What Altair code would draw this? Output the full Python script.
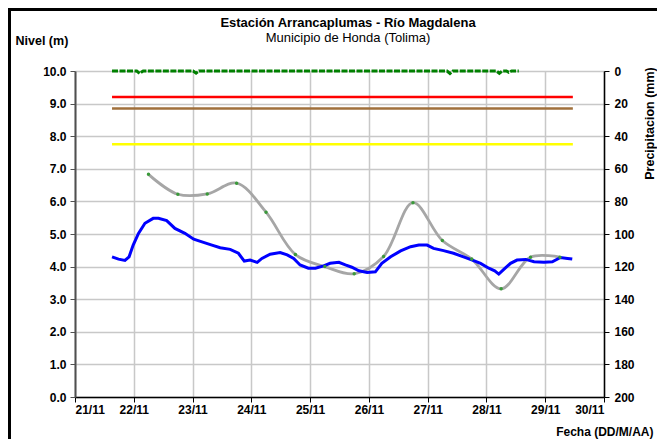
import altair as alt
import pandas as pd

# ---- data ----
days = list(range(21, 31))

level_t = [21.63, 21.74, 21.85, 21.92, 21.99, 22.08, 22.19, 22.33, 22.42, 22.56,
           22.70, 22.87, 23.02, 23.16, 23.33, 23.47, 23.64, 23.78, 23.88, 23.98,
           24.10, 24.18, 24.32, 24.49, 24.61, 24.72, 24.83, 24.97, 25.09, 25.23,
           25.34, 25.49, 25.60, 25.71, 25.83, 25.97, 26.11, 26.22, 26.37, 26.54,
           26.71, 26.85, 26.99, 27.10, 27.27, 27.44, 27.61, 27.76, 27.90, 28.04,
           28.14, 28.21, 28.30, 28.41, 28.52, 28.67, 28.81, 28.98, 29.12, 29.26,
           29.38, 29.46]
level_v = [4.30, 4.23, 4.19, 4.30, 4.66, 5.02, 5.33, 5.48, 5.48, 5.41,
           5.17, 5.02, 4.84, 4.76, 4.66, 4.58, 4.53, 4.41, 4.17, 4.20,
           4.13, 4.25, 4.38, 4.43, 4.36, 4.25, 4.05, 3.95, 3.95, 4.02,
           4.10, 4.13, 4.05, 3.98, 3.87, 3.82, 3.84, 4.10, 4.30, 4.48,
           4.61, 4.66, 4.66, 4.56, 4.49, 4.41, 4.30, 4.20, 4.10, 3.95,
           3.87, 3.77, 3.92, 4.10, 4.20, 4.22, 4.15, 4.13, 4.15, 4.28,
           4.25, 4.23]

fc_t = [22.25, 22.75, 23.25, 23.75, 24.25, 24.75, 25.25, 25.75,
        26.25, 26.75, 27.25, 27.75, 28.25, 28.75, 29.25]
fc_v = [6.83, 6.22, 6.23, 6.56, 5.67, 4.37, 4.00, 3.78,
        4.31, 5.96, 4.80, 4.23, 3.32, 4.29, 4.29]

precip_t = [21.63, 22.05, 22.10, 22.16, 23.01, 23.06, 23.11, 27.33, 27.38, 27.43,
            28.17, 28.22, 28.27, 28.34, 28.38, 28.43, 28.55]
precip_v = [0, 0, 1.5, 0, 0, 1.3, 0, 0, 1.5, 0,
            0, 1.4, 0, 0, 0.8, 0, 0]

thr_names = ["Rojo", "Naranja", "Amarillo"]
thr_values = [9.2, 8.85, 7.75]
thr_colors = ["#ff0000", "#a0703c", "#ffff00"]
thr_start = [21.63, 21.63, 21.63]
thr_end = [29.47, 29.47, 29.47]

title_text = "Estación Arrancaplumas - Río Magdalena"
subtitle_text = "Municipio de Honda (Tolima)"

# ---- tables ----
level_df = pd.DataFrame({"t": level_t, "v": level_v})
fc_df = pd.DataFrame({"t": fc_t, "v": fc_v})
precip_df = pd.DataFrame({"t": precip_t, "p": precip_v})
thr_df = pd.DataFrame({"name": thr_names, "v": thr_values, "t": thr_start, "t2": thr_end})
one_row = pd.DataFrame({"k": [0]})

FONT = "Liberation Sans"

x_enc = alt.X(
    "t:Q",
    scale=alt.Scale(domain=[21, 30], nice=False, zero=False),
    axis=alt.Axis(
        values=days, labelExpr="datum.value + '/11'",
        grid=True, gridColor="#c8c8c8", gridWidth=1.5,
        domainColor="#000000", domainWidth=1.5,
        tickColor="#000000", tickSize=5,
        labelFont=FONT, labelFontSize=12, labelFontWeight="bold", labelColor="#000000",
        labelPadding=2,
        title="Fecha (DD/M/AA)", titleFont=FONT, titleFontSize=12, titleFontWeight="bold",
        titleColor="#000000", titleAlign="right", titleAnchor="end",
        titleX=578, titleY=34, titleBaseline="middle",
    ),
)

y_axis = alt.Axis(
    values=list(range(0, 11)), format=".1f",
    grid=True, gridColor="#c8c8c8", gridWidth=1.5,
    domainColor="#505050", domainWidth=2,
    tickColor="#505050", tickSize=5,
    labelFont=FONT, labelFontSize=12, labelFontWeight="bold", labelColor="#000000",
    labelPadding=4,
    title="Nivel (m)", titleFont=FONT, titleFontSize=12.5, titleFontWeight="bold",
    titleColor="#000000", titleAngle=0, titleAlign="left", titleBaseline="middle",
    titleX=-60, titleY=-31,
)
y_enc = alt.Y("v:Q", scale=alt.Scale(domain=[0, 10], nice=False, zero=True), axis=y_axis)

thr_layer = alt.Chart(thr_df).mark_rule(strokeWidth=2.5).encode(
    x=x_enc, x2="t2:Q", y=y_enc,
    color=alt.Color("name:N", scale=alt.Scale(domain=thr_names, range=thr_colors), legend=None),
)

fc_line = alt.Chart(fc_df).mark_line(
    color="#a6a6a6", strokeWidth=2.8, interpolate="catmull-rom"
).encode(x=x_enc, y=y_enc)

level_line = alt.Chart(level_df).mark_line(
    color="#0000ff", strokeWidth=3
).encode(x=x_enc, y=y_enc)

fc_points = alt.Chart(fc_df).mark_point(
    filled=True, color="#3a9a3a", size=12, opacity=1
).encode(x=x_enc, y=y_enc)

frame_top = alt.Chart(one_row).mark_rule(color="#000000", strokeWidth=3).encode(
    x=alt.value(-67), x2=alt.value(590), y=alt.value(-61.5)
)
frame_left = alt.Chart(one_row).mark_rule(color="#000000", strokeWidth=3).encode(
    x=alt.value(-65.5), y=alt.value(-63), y2=alt.value(380)
)

title_mark = alt.Chart(one_row).mark_text(
    text=title_text, font=FONT, fontSize=13, fontWeight="bold", color="#000000",
    align="center", baseline="alphabetic"
).encode(x=alt.value(273), y=alt.value(-44))

subtitle_mark = alt.Chart(one_row).mark_text(
    text=subtitle_text, font=FONT, fontSize=13, fontWeight="normal", color="#000000",
    align="center", baseline="alphabetic"
).encode(x=alt.value(273), y=alt.value(-29))

left = alt.layer(thr_layer, fc_line, level_line, fc_points,
                 frame_top, frame_left, title_mark, subtitle_mark)

precip_layer = alt.Chart(precip_df).mark_line(
    color="#008000", strokeWidth=3, strokeDash=[6, 1.5]
).encode(
    x=x_enc,
    y=alt.Y(
        "p:Q",
        scale=alt.Scale(domain=[0, 200], reverse=True, nice=False),
        axis=alt.Axis(
            orient="right", values=list(range(0, 201, 20)), grid=False,
            domainColor="#000000", domainWidth=1.5,
            tickColor="#000000", tickSize=5,
            labelFont=FONT, labelFontSize=12, labelFontWeight="bold", labelColor="#000000",
            labelPadding=5,
            title="Precipitacion (mm)", titleFont=FONT, titleFontSize=12.5,
            titleFontWeight="bold", titleColor="#000000",
            titleAngle=270, titleAlign="center", titleBaseline="middle",
            titleX=45, titleY=52,
        ),
    ),
)

chart = alt.layer(left, precip_layer).resolve_scale(y="independent").properties(
    width=529,
    height=326,
    autosize=alt.AutoSizeParams(type="none"),
    padding={"left": 67, "top": 63, "right": 53, "bottom": 42},
).configure_view(stroke=None).configure(background="#ffffff")

chart.save("out.html", embed_options={"renderer": "svg", "actions": False})
